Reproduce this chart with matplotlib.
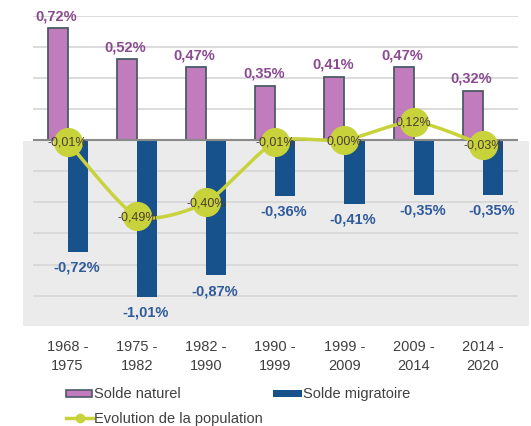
import matplotlib
matplotlib.use("Agg")
import matplotlib.pyplot as plt
import numpy as np
from matplotlib.patches import Rectangle
from matplotlib.lines import Line2D

periods = ["1968 -\n1975", "1975 -\n1982", "1982 -\n1990", "1990 -\n1999",
           "1999 -\n2009", "2009 -\n2014", "2014 -\n2020"]
solde_naturel = [0.72, 0.52, 0.47, 0.35, 0.41, 0.47, 0.32]
solde_migratoire = [-0.72, -1.01, -0.87, -0.36, -0.41, -0.35, -0.35]
evolution = [-0.01, -0.49, -0.40, -0.01, 0.00, 0.12, -0.03]

C_NAT = "#c07cbd"
C_NAT_EDGE = "#4d5a66"
C_MIG = "#18528c"
C_EVO = "#c8d33c"
C_NAT_TXT = "#8a4a90"
C_MIG_TXT = "#2f5a9c"
C_EVO_TXT = "#4a3d30"
C_TICK = "#404040"

plt.rcParams['font.family'] = ['Liberation Sans', 'DejaVu Sans']

W, H = 531, 427
fig = plt.figure(figsize=(W / 100, H / 100), dpi=100)
fig.patch.set_facecolor("white")


def fx(px):
    return px / W


def fy(py):
    return 1 - py / H


ax_left, ax_right, ax_top, ax_bottom = 33, 517.5, 17, 327.7
ax = fig.add_axes([fx(ax_left), fy(ax_bottom), fx(ax_right) - fx(ax_left), fy(ax_top) - fy(ax_bottom)])
ax.set_facecolor("none")
ax.set_xlim(-0.5, 6.5)
ax.set_ylim(-1.2, 0.8)

# grey background in the negative region
ax.add_patch(Rectangle((fx(23), fy(327)), fx(529) - fx(23), fy(141.5) - fy(327),
                       transform=fig.transFigure, facecolor="#ebebeb", edgecolor="none",
                       zorder=0, clip_on=False))

for g in [0.8, 0.6, 0.4, 0.2, -0.2, -0.4, -0.6, -0.8, -1.0]:
    ax.axhline(g, color="#d6d6d6", lw=1.2, zorder=1)

x = np.arange(len(periods))
bw = 0.29
off = 0.145
ax.bar(x - off, solde_naturel, width=bw, color=C_NAT, edgecolor=C_NAT_EDGE, linewidth=1.3, zorder=3)
ax.bar(x + off, solde_migratoire, width=bw, color=C_MIG, edgecolor="none", zorder=3)
ax.axhline(0, color="#8a8a8a", lw=1.5, zorder=4)


def fmt(v):
    return f"{v:.2f}%".replace(".", ",")


for xi, v in zip(x, solde_naturel):
    ax.annotate(fmt(v), (xi - off, v), xytext=(-1, 4.5), textcoords="offset points",
                ha="center", va="bottom", fontsize=10.5, fontweight="bold", color=C_NAT_TXT, zorder=6)
for xi, v in zip(x, solde_migratoire):
    ax.annotate(fmt(v), (xi + off, v), xytext=(-1, -5.5), textcoords="offset points",
                ha="center", va="top", fontsize=10.5, fontweight="bold", color=C_MIG_TXT, zorder=6)

# gently smoothed line through the data points
px = np.array(x, dtype=float)
py = np.array(evolution, dtype=float)
P = np.column_stack([px, py])
Pext = np.vstack([P[0], P, P[-1]])
t = np.linspace(0, 1, 40)
k = 1 / 9
curve = []
for i in range(len(P) - 1):
    p0, p1, p2, p3 = Pext[i], Pext[i + 1], Pext[i + 2], Pext[i + 3]
    c1 = p1 + (p2 - p0) * k
    c2 = p2 - (p3 - p1) * k
    seg = ((1 - t) ** 3)[:, None] * p1 + (3 * (1 - t) ** 2 * t)[:, None] * c1 + \
          (3 * (1 - t) * t ** 2)[:, None] * c2 + (t ** 3)[:, None] * p2
    curve.append(seg)
curve = np.vstack(curve)
ax.plot(curve[:, 0], curve[:, 1], color=C_EVO, lw=2.5, zorder=5, solid_capstyle="round")
ax.plot(px, py, linestyle="none", marker="o", markersize=20, color=C_EVO, zorder=5)
for xi, v in zip(x, evolution):
    ax.text(xi, v, fmt(v), ha="center", va="center", fontsize=9, color=C_EVO_TXT, zorder=7)

ax.set_xticks(x)
ax.set_xticklabels(periods, fontsize=10.5, color=C_TICK, linespacing=1.45)
ax.tick_params(axis="x", length=0, pad=9)
ax.set_yticks([])
for s in ax.spines.values():
    s.set_visible(False)

# legend (manual)
fig.patches.append(Rectangle((fx(66), fy(398)), fx(92) - fx(66), fy(391) - fy(398),
                             transform=fig.transFigure, facecolor=C_NAT, edgecolor=C_NAT_EDGE,
                             linewidth=1.2))
fig.text(fx(94), fy(394.5), "Solde naturel", fontsize=10.5, color=C_TICK, ha="left", va="center")
fig.patches.append(Rectangle((fx(273), fy(398)), fx(302) - fx(273), fy(391) - fy(398),
                             transform=fig.transFigure, facecolor=C_MIG, edgecolor="none"))
fig.text(fx(303), fy(394.5), "Solde migratoire", fontsize=10.5, color=C_TICK, ha="left", va="center")
fig.lines.append(Line2D([fx(66), fx(93)], [fy(419), fy(419)], transform=fig.transFigure,
                        color=C_EVO, lw=2.5))
fig.lines.append(Line2D([fx(79.5)], [fy(419)], transform=fig.transFigure, marker="o",
                        markersize=6, color=C_EVO, linestyle="none"))
fig.text(fx(94), fy(419), "Evolution de la population", fontsize=10.5, color=C_TICK, ha="left", va="center")

fig.savefig("out.png", dpi=100)
